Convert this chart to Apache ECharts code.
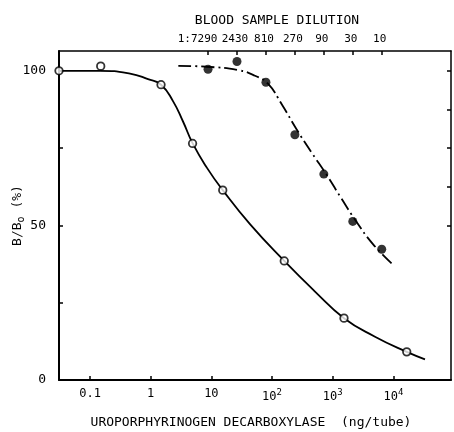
<!DOCTYPE html>
<html>
<head>
<meta charset="utf-8">
<script src="https://cdn.jsdelivr.net/npm/echarts@6/dist/echarts.min.js"></script>
<style>
html,body{margin:0;padding:0;background:#fff;}
#chart{width:454px;height:432px;}
</style>
</head>
<body>
<div id="chart"></div>
<script>
// Uroporphyrinogen decarboxylase standard (open circles)
const enzymeNg = [0.0308, 0.15, 1.48, 4.9, 15.4, 159, 1535, 16600];
const enzymeBB0 = [100, 101.5, 95.5, 76.5, 61.4, 38.5, 20.0, 9.1];
// fitted solid curve
const enzymeCurveNg = [0.0308, 0.146, 0.456, 0.903, 1.48, 2.33, 3.41, 4.92, 8.47, 15.4, 43.3, 159, 511, 1535, 4978, 16590, 33210];
const enzymeCurveBB0 = [100, 100, 99.1, 97.3, 95.5, 90.2, 83.6, 76.5, 68.6, 61.4, 50.4, 38.5, 28.6, 20.0, 14.0, 9.1, 6.7];

// Blood sample dilution (filled circles)
const bloodDilution = [7290, 2430, 810, 270, 90, 30, 10];
const bloodBB0 = [100.5, 103.0, 96.3, 79.3, 66.6, 51.3, 42.3];
// dash-dot curve
const bloodCurveDilution = [22520, 7665, 2310, 1226, 757, 440, 252, 143.6, 80.6, 46.9, 26.8, 13.75, 6.44];
const bloodCurveBB0 = [101.6, 101.3, 100.2, 98.4, 95.9, 89.0, 81.0, 73.6, 66.3, 58.9, 51.5, 43.8, 37.2];

// axis ticks / labels
const bottomTicks = [0.1, 1, 10, 100, 1000, 10000];
const topTicks = [10, 30, 90, 270, 810, 2430, 7290];
const yLabelTicks = [0, 50, 100];
const yTicks = [0, 25, 50, 75, 100];
const rightTicks = [50, 62.5, 75, 87.5, 100];

const FONT = 'DejaVu Sans Mono';
const INK = '#000';

const pairs = (xs, ys) => xs.map((x, i) => [x, ys[i]]);

const chart = echarts.init(document.getElementById('chart'), null, {renderer: 'canvas'});

chart.setOption({
  animation: false,
  backgroundColor: '#fff',
  grid: {left: 59, right: 3, top: 51, bottom: 52, show: false, containLabel: false, outerBoundsMode: 'none'},
  xAxis: [
    {
      type: 'log', logBase: 10, position: 'bottom',
      min: 0.0308, max: 89100,
      axisLine: {onZero: false, lineStyle: {color: INK, width: 2}},
      axisTick: {inside: true, length: 4, customValues: bottomTicks, lineStyle: {color: INK, width: 1.5}},
      splitLine: {show: false}, minorTick: {show: false},
      axisLabel: {
        customValues: bottomTicks, margin: 8,
        fontFamily: FONT, fontSize: 12, color: INK,
        formatter: function (v) {
          const e = Math.round(Math.log10(v));
          if (e <= 1) return e === -1 ? '0.1' : (e === 0 ? '1' : '10');
          return '10{s|' + e + '}';
        },
        rich: {s: {fontFamily: FONT, fontSize: 9, color: INK, padding: [0, 0, 8, 0]}}
      },
      name: 'UROPORPHYRINOGEN DECARBOXYLASE  (ng/tube)',
      nameLocation: 'middle', nameGap: 36, nameMoveOverlap: false,
      nameTextStyle: {fontFamily: FONT, fontSize: 13, color: INK, padding: [0, 8, 0, 0]}
    },
    {
      type: 'log', logBase: 10, position: 'top', inverse: true,
      min: 0.7217, max: 2085000,
      axisLine: {onZero: false, lineStyle: {color: INK, width: 1.5}},
      axisTick: {inside: true, length: 4, customValues: topTicks, lineStyle: {color: INK, width: 1.5}},
      splitLine: {show: false}, minorTick: {show: false},
      axisLabel: {
        customValues: topTicks, margin: 6,
        fontFamily: FONT, fontSize: 11, color: INK,
        padding: [0, 4, 0, 0],
        formatter: function (v) {
          const r = Math.round(v);
          return r === 7290 ? '{f|1:7290}' : String(r);
        },
        rich: {f: {fontFamily: FONT, fontSize: 11, color: INK, padding: [0, 17, 0, 0]}}
      }
    }
  ],
  yAxis: [
    {
      type: 'value', min: 0, max: 106.4, position: 'left',
      axisLine: {show: true, onZero: false, lineStyle: {color: INK, width: 2}},
      axisTick: {show: true, inside: true, length: 4, customValues: yTicks, lineStyle: {color: INK, width: 1.5}},
      splitLine: {show: false},
      axisLabel: {customValues: yLabelTicks, margin: 13, fontFamily: FONT, fontSize: 13, color: INK},
      name: 'B/B{o|o} (%)',
      nameLocation: 'middle', nameRotate: 90, nameGap: 33, nameMoveOverlap: false,
      nameTextStyle: {
        fontFamily: FONT, fontSize: 13, color: INK,
        rich: {o: {fontFamily: FONT, fontSize: 10, color: INK, padding: [6, 0, 0, 0]}}
      }
    },
    {
      type: 'value', min: 0, max: 106.4, position: 'right',
      axisLine: {show: true, onZero: false, lineStyle: {color: INK, width: 1.5}},
      axisTick: {show: true, inside: true, length: 4, customValues: rightTicks, lineStyle: {color: INK, width: 1.5}},
      splitLine: {show: false},
      axisLabel: {show: false}
    }
  ],
  graphic: [
    {
      type: 'text', x: 277, y: 21,
      style: {text: 'BLOOD SAMPLE DILUTION', fontFamily: FONT, fontSize: 13, fill: INK, align: 'center', verticalAlign: 'middle'}
    }
  ],
  series: [
    {
      name: 'enzyme curve', type: 'line', xAxisIndex: 0, yAxisIndex: 0,
      data: pairs(enzymeCurveNg, enzymeCurveBB0),
      smooth: 0.5, showSymbol: false, clip: false,
      lineStyle: {color: '#000', width: 1.8}, z: 2
    },
    {
      name: 'blood curve', type: 'line', xAxisIndex: 1, yAxisIndex: 0,
      data: pairs(bloodCurveDilution, bloodCurveBB0),
      smooth: 0.5, showSymbol: false, clip: false,
      lineStyle: {color: '#000', width: 1.8, type: [13, 4, 2, 4]}, z: 2
    },
    {
      name: 'enzyme', type: 'scatter', xAxisIndex: 0, yAxisIndex: 0,
      data: pairs(enzymeNg, enzymeBB0), clip: false,
      symbol: 'circle', symbolSize: 7.5,
      itemStyle: {color: '#fff', borderColor: '#000', borderWidth: 1.8}, z: 4
    },
    {
      name: 'blood', type: 'scatter', xAxisIndex: 1, yAxisIndex: 0,
      data: pairs(bloodDilution, bloodBB0), clip: false,
      symbol: 'circle', symbolSize: 9,
      itemStyle: {color: '#000'}, z: 4
    }
  ]
});
</script>
</body>
</html>
